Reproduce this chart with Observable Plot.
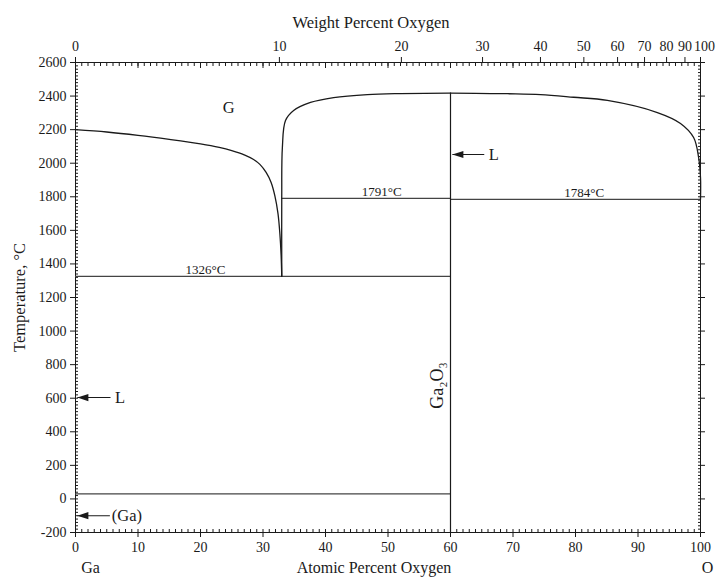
<!DOCTYPE html>
<html><head><meta charset="utf-8">
<script src="https://cdn.jsdelivr.net/npm/d3@7"></script>
<script src="https://cdn.jsdelivr.net/npm/@observablehq/plot@0.6"></script>
<style>body{margin:0;background:#fff}svg{display:block}</style>
</head><body><div id="chart"></div>
<script>
// ---- data ----
const tempTicks = [-200, 0, 200, 400, 600, 800, 1000, 1200, 1400, 1600, 1800, 2000, 2200, 2400, 2600];
const atTicks = [0, 10, 20, 30, 40, 50, 60, 70, 80, 90, 100];
const wtTicks = [0, 10, 20, 30, 40, 50, 60, 70, 80, 90];
const wtLastTick = [100];

// left gas boundary (Ga-rich side)
const leftAt = [0, 5, 10, 15, 20, 23, 25, 27, 28.5, 29.5, 30.5, 31.3, 31.9, 32.4, 32.7, 32.9, 33];
const leftT  = [2200, 2186, 2166, 2142, 2115, 2094, 2075, 2050, 2022, 1993, 1945, 1885, 1805, 1700, 1580, 1450, 1326];

// right gas boundary (through Ga2O3 maximum to O side)
const rightAt = [33, 33, 33.1, 33.6, 34.9, 37.6, 41.3, 46.7, 52, 60, 69.1, 74.4, 79.7, 85.1, 93.1, 96.8, 98.9, 99.7, 100, 100];
const rightT  = [1326, 1791, 2094, 2254, 2314, 2362, 2391, 2409, 2415, 2418, 2414, 2409, 2393, 2374, 2302, 2237, 2153, 2034, 1915, 1784];

// isotherms
const isoT    = [1326, 1791, 1784, 30];
const isoFrom = [0, 33, 60, 0];
const isoTo   = [60, 60, 100, 60];
const isoLabel = ["1326°C", "1791°C", "1784°C"];
const isoLabelAt = [20.8, 49, 81.4];
const isoLabelT = [1326, 1791, 1784];

// Ga2O3 compound line
const compoundAt = [60];
const compoundTop = 2418;

// arrows
const arrowText = ["L", "L", "(Ga)"];
const arrowTipAt = [60.3, 0.3, 0.3];
const arrowTailAt = [65.4, 5.6, 5.5];
const arrowT = [2052, 604, -100];
const arrowTextAt = [66.1, 6.3, 5.8];

// region / phase labels
const regionText = ["G"];
const regionAt = [24.5];
const regionT = [2332];
const compoundLabel = ["Ga₂O₃"];
const compoundLabelAt = [57.9];
const compoundLabelT = [676];

// ---- helpers ----
const MO = 15.999, MGa = 69.723;
const wtToAt = w => w === 100 ? 100 : 100 * (w / MO) / (w / MO + (100 - w) / MGa);

const leftCurve = leftAt.map((x, i) => ({x, T: leftT[i]}));
const rightCurve = rightAt.map((x, i) => ({x, T: rightT[i]}));
const isotherms = isoT.map((T, i) => ({T, x1: isoFrom[i], x2: isoTo[i]}));
const isoLabels = isoLabel.map((t, i) => ({t, x: isoLabelAt[i], T: isoLabelT[i]}));
const arrows = arrowText.map((t, i) => ({t, tip: arrowTipAt[i], tail: arrowTailAt[i], T: arrowT[i], tx: arrowTextAt[i]}));
const regions = regionText.map((t, i) => ({t, x: regionAt[i], T: regionT[i]}));
const compLabels = compoundLabel.map((t, i) => ({t, x: compoundLabelAt[i], T: compoundLabelT[i]}));

const leftTri = {draw(ctx) { ctx.moveTo(0, 0); ctx.lineTo(11, -3.6); ctx.lineTo(11, 3.6); ctx.closePath(); }};

const font = "Liberation Serif, Times New Roman, serif";
const ink = "#1a1a1a";
const tickOnly = {fill: "none", label: null, stroke: ink};
const textOnly = {stroke: "none", label: null, fill: ink};
const plain = d => String(d);

const chart = Plot.plot({
  width: 717, height: 578,
  marginLeft: 75, marginRight: 17, marginTop: 62, marginBottom: 46,
  style: {fontFamily: font, fontSize: "14px", color: ink, background: "#fff"},
  x: {domain: [0, 100], label: null},
  y: {domain: [-200, 2600], label: null},
  marks: [
    // left axis
    Plot.axisY(d3.range(-200, 2601, 20), {anchor: "left", tickSize: -3, ...tickOnly}),
    Plot.axisY(tempTicks, {anchor: "left", tickSize: 5, ...tickOnly}),
    Plot.axisY(tempTicks, {anchor: "left", tickSize: 5, tickPadding: 4, fontSize: 14, tickFormat: plain, ...textOnly}),
    // right axis
    Plot.axisY(d3.range(-200, 2601, 20), {anchor: "right", tickSize: -3, ...tickOnly}),
    Plot.axisY(tempTicks, {anchor: "right", tickSize: 4, ...tickOnly}),
    // bottom axis
    Plot.axisX(d3.range(0, 101, 1), {anchor: "bottom", tickSize: -3, ...tickOnly}),
    Plot.axisX(atTicks, {anchor: "bottom", tickSize: 5, ...tickOnly}),
    Plot.axisX(atTicks, {anchor: "bottom", tickSize: 5, tickPadding: 5, fontSize: 14, tickFormat: plain, ...textOnly}),
    // top axis
    Plot.axisX(d3.range(0, 101, 1), {anchor: "top", tickSize: -3, ...tickOnly}),
    Plot.axisX(atTicks, {anchor: "top", tickSize: -5, ...tickOnly}),
    Plot.axisX(wtTicks.concat(wtLastTick).map(wtToAt), {anchor: "top", tickSize: 6, ...tickOnly}),
    Plot.text(wtTicks, {x: wtToAt, text: plain, frameAnchor: "top", lineAnchor: "bottom", textAnchor: "middle", dy: -12, fontSize: 14, fill: ink}),
    Plot.text(wtLastTick, {x: wtToAt, text: plain, frameAnchor: "top", lineAnchor: "bottom", textAnchor: "middle", dy: -12, dx: 4, fontSize: 14, fill: ink}),
    Plot.frame({stroke: ink, strokeWidth: 1}),
    // axis titles
    Plot.text(["Weight Percent Oxygen"], {frameAnchor: "top", textAnchor: "middle", lineAnchor: "middle", dy: -40, dx: -17, fontSize: 16.5, fill: ink}),
    Plot.text(["Atomic Percent Oxygen"], {frameAnchor: "bottom", textAnchor: "middle", lineAnchor: "middle", dy: 35, dx: -14, fontSize: 16, fill: ink}),
    Plot.text(["Ga"], {frameAnchor: "bottom-left", textAnchor: "middle", lineAnchor: "middle", dy: 35, dx: 15, fontSize: 16, fill: ink}),
    Plot.text(["O"], {frameAnchor: "bottom-right", textAnchor: "middle", lineAnchor: "middle", dy: 35, dx: 7, fontSize: 16, fill: ink}),
    Plot.text(["Temperature, °C"], {frameAnchor: "left", textAnchor: "middle", lineAnchor: "middle", rotate: -90, dx: -56, fontSize: 16.5, fill: ink}),
    // isotherms
    Plot.ruleY(isotherms, {y: "T", x1: "x1", x2: "x2", stroke: "#444", strokeWidth: 1.2}),
    Plot.text(isoLabels, {x: "x", y: "T", text: "t", lineAnchor: "bottom", dy: -2, fontSize: 13, fill: ink}),
    // compound line
    Plot.ruleX(compoundAt, {y1: -200, y2: compoundTop, stroke: ink, strokeWidth: 1.2}),
    // boundaries
    Plot.line(leftCurve, {x: "x", y: "T", curve: "catmull-rom", stroke: ink, strokeWidth: 1.3}),
    Plot.line(rightCurve, {x: "x", y: "T", curve: "catmull-rom", stroke: ink, strokeWidth: 1.3}),
    // arrows
    Plot.link(arrows, {x1: "tail", x2: "tip", y1: "T", y2: "T", stroke: ink, strokeWidth: 1.1}),
    Plot.dot(arrows, {x: "tip", y: "T", symbol: leftTri, fill: ink, stroke: "none"}),
    Plot.text(arrows, {x: "tx", y: "T", text: "t", textAnchor: "start", lineAnchor: "middle", fontSize: 16.5, fill: ink}),
    // labels
    Plot.text(regions, {x: "x", y: "T", text: "t", fontSize: 16.5, fill: ink}),
    Plot.text(compLabels, {x: "x", y: "T", text: "t", rotate: -90, fontSize: 18, fill: ink})
  ]
});
document.getElementById("chart").append(chart);
</script>
</body></html>
